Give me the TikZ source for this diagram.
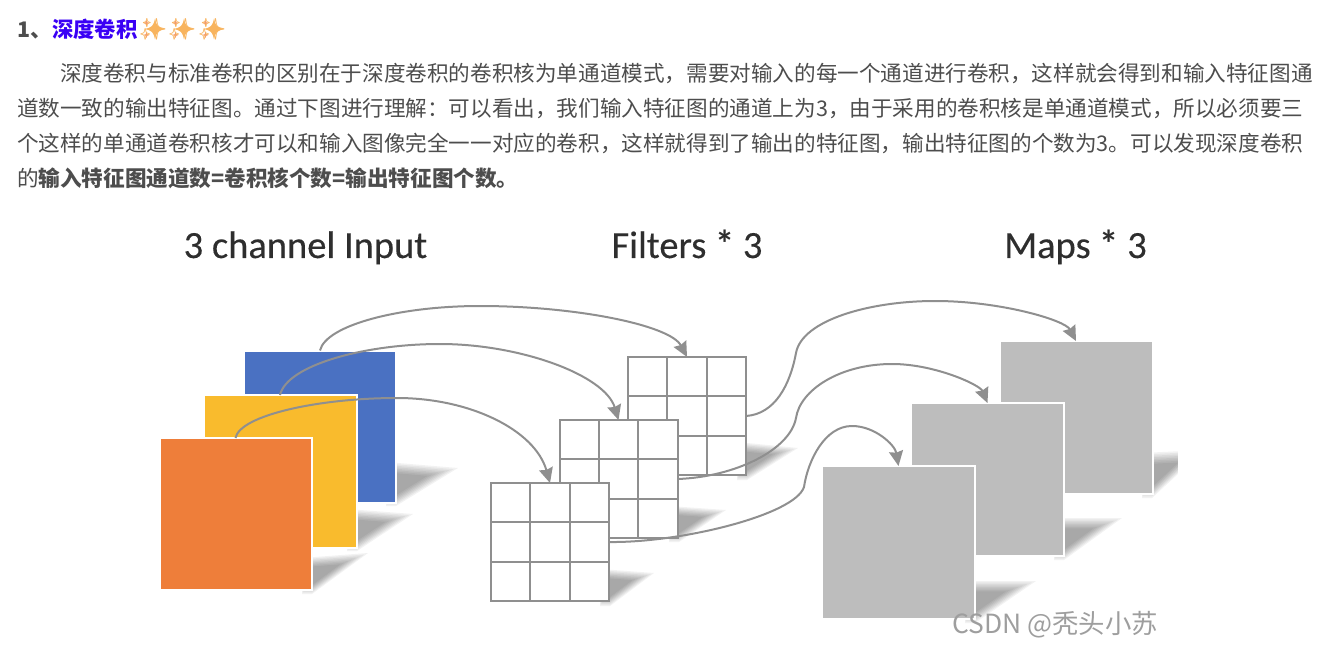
\documentclass[tikz,border=0pt]{standalone}
\usepackage{fontspec}
\setmainfont{Noto Sans CJK SC}
\newfontfamily\labelfont{Carlito}[FakeBold=0.25]
\newfontfamily\labelstar{Carlito Bold}
\newfontfamily\emojifont{Noto Emoji}
\usetikzlibrary{arrows.meta,calc}
\definecolor{txt}{HTML}{4D4D4D}
\definecolor{cblue}{HTML}{4A71C2}
\definecolor{cyellow}{HTML}{F9BB2D}
\definecolor{corange}{HTML}{EE7E3A}
\definecolor{cmap}{HTML}{BDBDBD}
\definecolor{cline}{HTML}{8F8F8F}
\definecolor{cspark}{HTML}{F8B45E}
\definecolor{cspark2}{HTML}{F49A6E}
\definecolor{chead}{HTML}{3A00F5}
\newcommand{\softshadow}[6]{% x0 ytop x1 ytip x2 ybot
  \foreach \t in {1,0.93,0.86,0.79,0.72,0.65,0.58,0.51}{
    \fill[black,opacity=0.05]
      ($(#1,{(#2+#6)/2})!\t!(#1-10,#2)$) --
      ($(#1,{(#2+#6)/2})!\t!(#3,#4)$) --
      ($(#1,{(#2+#6)/2})!\t!(#5,#6)$) --
      ($(#1,{(#2+#6)/2})!\t!(#1-10,#6)$) -- cycle;
  }}
\newcommand{\starat}[1]{%
  \fill[cspark] ($(#1)+(0,-10.5)$) .. controls ($(#1)+(1.5,-3)$) and ($(#1)+(3,-1.5)$) .. ($(#1)+(10.5,0)$)
     .. controls ($(#1)+(3,1.5)$) and ($(#1)+(1.5,3)$) .. ($(#1)+(0,10.5)$)
     .. controls ($(#1)+(-1.5,3)$) and ($(#1)+(-3,1.5)$) .. ($(#1)+(-10.5,0)$)
     .. controls ($(#1)+(-3,-1.5)$) and ($(#1)+(-1.5,-3)$) .. cycle;
  \fill[cspark2] ($(#1)+(-8.5,-9)$) -- ($(#1)+(-7.7,-6.8)$) -- ($(#1)+(-5.5,-6)$) -- ($(#1)+(-7.7,-5.2)$) -- ($(#1)+(-8.5,-3)$) -- ($(#1)+(-9.3,-5.2)$) -- ($(#1)+(-11.5,-6)$) -- ($(#1)+(-9.3,-6.8)$) -- cycle;
  \fill[cspark2] ($(#1)+(-8.5,3)$) -- ($(#1)+(-7.7,5.2)$) -- ($(#1)+(-5.5,6)$) -- ($(#1)+(-7.7,6.8)$) -- ($(#1)+(-8.5,9)$) -- ($(#1)+(-9.3,6.8)$) -- ($(#1)+(-11.5,6)$) -- ($(#1)+(-9.3,5.2)$) -- cycle;
}
\tikzset{
  x=1pt,y=-1pt,
  para/.style={anchor=base west,inner sep=0,outer sep=0,text=txt,font=\fontsize{21.6}{24}\selectfont},
  sheet/.style={draw=white,line width=2pt,minimum width=#1,minimum height=#1,inner sep=0,outer sep=0},
  gridbox/.style={draw=cline,fill=white,line width=2pt,minimum width=118pt,minimum height=118pt,inner sep=0,outer sep=0},
  gridline/.style={draw=cline,line width=2pt},
  flow/.style={draw=cline,line width=2pt,-{Stealth[length=15pt,width=14pt,inset=1.5pt]}},
  heading/.style={anchor=base,inner sep=0,text=black!82,font=\labelfont\fontsize{38.5}{42}\selectfont},
  spark/.style={anchor=center,inner sep=0,text=cspark,font=\emojifont\fontsize{21}{24}\selectfont},
}
\begin{document}
\begin{tikzpicture}
\useasboundingbox (0,0) rectangle (1328,655);
% text
\node[para,font=\bfseries\fontsize{21.4}{24}\selectfont] (num) at (17,37.5) {1、};
\node[para,text=chead,font=\bfseries\fontsize{21.4}{24}\selectfont] (head) at (52,37.5) {深度卷积};
\coordinate (c1) at (155,29);
\coordinate (c2) at (184,29);
\coordinate (c3) at (214,29);
\starat{c1}
\starat{c2}
\starat{c3}
\node[spark] (s1) at (153,29) {✨};
\node[spark] (s2) at (182,29) {✨};
\node[spark] (s3) at (212,29) {✨};
\node[para] (l1) at (60,81.5) {深度卷积与标准卷积的区别在于深度卷积的卷积核为单通道模式，需要对输入的每一个通道进行卷积，这样就会得到和输入特征图通};
\node[para] (l2) at (17,116.5) {道数一致的输出特征图。通过下图进行理解：可以看出，我们输入特征图的通道上为3，由于采用的卷积核是单通道模式，所以必须要三};
\node[para] (l3) at (17,151.5) {个这样的单通道卷积核才可以和输入图像完全一一对应的卷积，这样就得到了输出的特征图，输出特征图的个数为3。可以发现深度卷积};
\node[para] (l4) at (17,186.5) {的\textbf{输入特征图通道数=卷积核个数=输出特征图个数。}};
% column titles
\node[heading] (t1) at (305.5,258) {3 channel Input};
\node[heading] (t2) at (687,258) {Filters {\labelstar *} 3};
\node[heading] (t3) at (1075.5,258) {Maps {\labelstar *} 3};
% shadows
\softshadow{396}{462}{458}{468}{396}{506}
\softshadow{357}{509}{413}{514}{357}{551}
\softshadow{312}{558}{368}{553}{312}{594}
\softshadow{747}{442}{798}{448}{747}{480}
\softshadow{679}{506}{726}{510}{679}{542}
\softshadow{610}{569}{654}{573}{610}{606}
\softshadow{1064}{518}{1122}{518}{1064}{560}
\softshadow{975}{581}{1036}{581}{975}{623}
\softshadow{1152}{453}{1204}{450}{1152}{498}
\fill[white] (1178,440) rectangle (1215,510);
% input sheets
\node[sheet=152pt,fill=cblue] (blue) at (320,426.5) {};
\node[sheet=153pt,fill=cyellow] (yellow) at (280,471.5) {};
\node[sheet=152pt,fill=corange] (orange) at (235.5,514) {};
% filters
\foreach \n/\cx/\cy in {gb/687/416,gm/618.5/479,gf/550/542}{
  \node[gridbox] (\n) at (\cx,\cy) {};
  \draw[gridline] ($(\n.north west)!1/3!(\n.north east)$) -- ($(\n.south west)!1/3!(\n.south east)$);
  \draw[gridline] ($(\n.north west)!2/3!(\n.north east)$) -- ($(\n.south west)!2/3!(\n.south east)$);
  \draw[gridline] ($(\n.north west)!1/3!(\n.south west)$) -- ($(\n.north east)!1/3!(\n.south east)$);
  \draw[gridline] ($(\n.north west)!2/3!(\n.south west)$) -- ($(\n.north east)!2/3!(\n.south east)$);
}
% maps
\node[sheet=153pt,fill=cmap] (mb) at (1076,417.5) {};
\node[sheet=153pt,fill=cmap] (mm) at (987.5,479.5) {};
\node[sheet=153pt,fill=cmap] (mf) at (898.5,542.5) {};
% connectors
\draw[flow] (blue.north) .. controls (326,325) and (400,306) .. (480,306) .. controls (575,306) and (670,325) .. (gb.north);
\draw[flow] (yellow.north) .. controls (287,365) and (365,344) .. (440,344) .. controls (520,344) and (605,375) .. (gm.north);
\draw[flow] (orange.north) .. controls (240,415) and (320,398) .. (397,398) .. controls (470,398) and (535,430) .. (gf.north);
\draw[flow] (gb.east) .. controls (775,414) and (790,385) .. (796,353) .. controls (802,320) and (870,301) .. (935,301) .. controls (1000,301) and (1065,320) .. (mb.north);
\draw[flow] (gm.east) .. controls (735,477) and (790,450) .. (796,418) .. controls (800,390) and (840,364) .. (892,364) .. controls (935,364) and (980,385) .. (mm.north);
\draw[flow] (gf.east) .. controls (680,543) and (795,515) .. (804,487) .. controls (808,460) and (825,426) .. (852,426) .. controls (875,426) and (895,445) .. (mf.north);
% watermark
\node[anchor=base west,inner sep=0,text=black!38,font=\fontsize{26.4}{30}\selectfont] (wm) at (952,633) {CSDN @秃头小苏};
\end{tikzpicture}
\end{document}
